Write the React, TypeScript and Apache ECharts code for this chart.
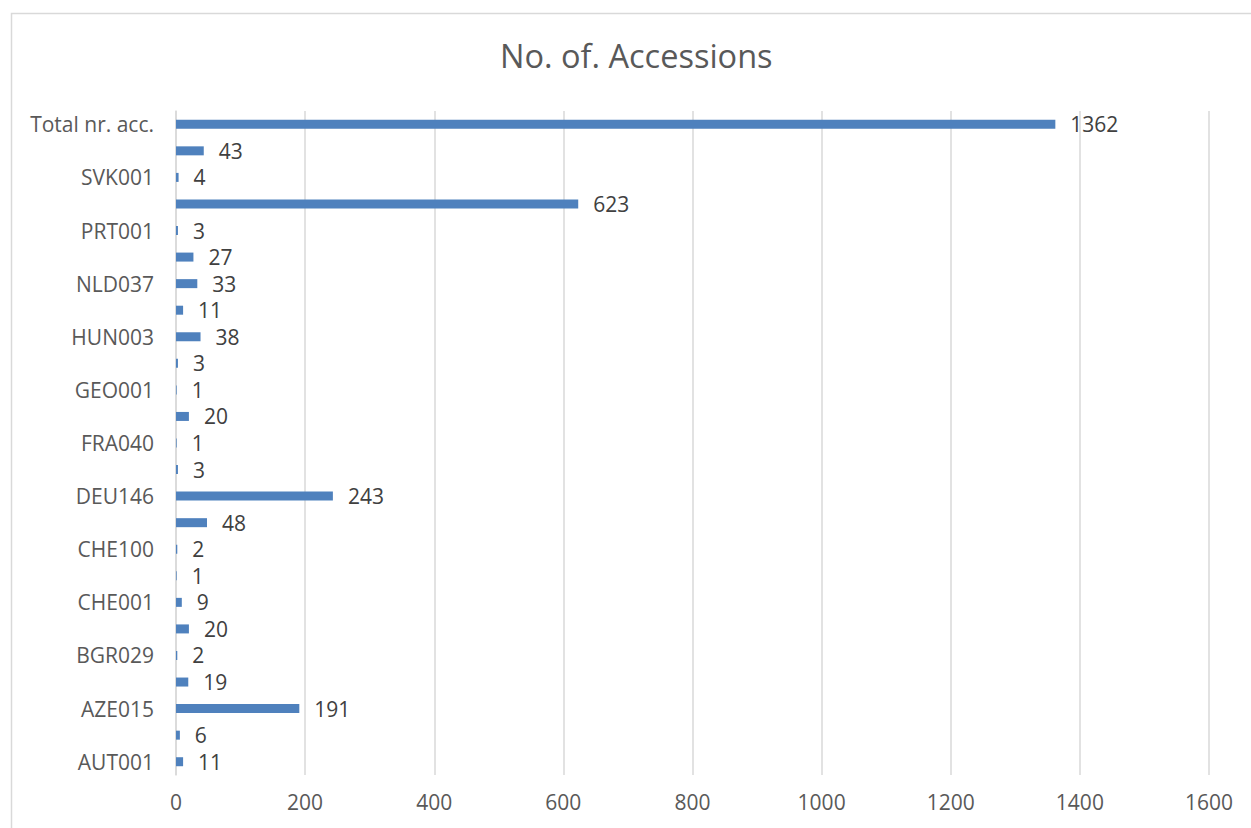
import React, { useEffect, useRef } from "react";
import * as echarts from "echarts";

// Categories from bottom to top; labels that are hidden in the reference are unknown (empty)
const categories: string[] = [
  "AUT001", "", "AZE015", "", "BGR029", "", "CHE001", "", "CHE100", "",
  "DEU146", "", "FRA040", "", "GEO001", "", "HUN003", "", "NLD037", "",
  "PRT001", "", "SVK001", "", "Total nr. acc.",
];
const values: number[] = [
  11, 6, 191, 19, 2, 20, 9, 1, 2, 48,
  243, 3, 1, 20, 1, 3, 38, 11, 33, 27,
  3, 623, 4, 43, 1362,
];
const title = "No. of. Accessions";
const xTicks = { min: 0, max: 1600, interval: 200 };

const FONT = "'Open Sans', 'Noto Sans', sans-serif";

export default function App() {
  const ref = useRef<HTMLDivElement>(null);
  useEffect(() => {
    document.body.style.margin = "0";
    const chart = echarts.init(ref.current!, null, { renderer: "svg" });
    chart.setOption({
      animation: false,
      backgroundColor: "#ffffff",
      title: {
        text: title,
        left: 495,
        top: 34,
        textStyle: { fontFamily: FONT, fontSize: 32.5, fontWeight: "normal", color: "#595959" },
      },
      graphic: [
        {
          type: "rect",
          shape: { x: 11.5, y: 13.5, width: 1260, height: 900 },
          style: { fill: "none", stroke: "#d9d9d9", lineWidth: 1.5 },
          silent: true,
        },
      ],
      grid: { left: 176, right: 42, top: 111, bottom: 53, containLabel: false },
      xAxis: {
        type: "value",
        min: xTicks.min,
        max: xTicks.max,
        interval: xTicks.interval,
        axisLine: { show: false },
        axisTick: { show: false },
        splitLine: { show: true, lineStyle: { color: "#d9d9d9", width: 1.5 } },
        axisLabel: {
          fontFamily: FONT,
          fontSize: 21,
          color: "#595959",
          margin: 16,
          formatter: (v: number) => String(v),
        },
      },
      yAxis: {
        type: "category",
        data: categories,
        axisLine: { show: true, lineStyle: { color: "#d9d9d9", width: 1.5 } },
        axisTick: { show: false },
        axisLabel: {
          interval: 0,
          fontFamily: FONT,
          fontSize: 21,
          color: "#595959",
          margin: 22,
        },
      },
      series: [
        {
          type: "bar",
          data: values,
          barWidth: 9,
          itemStyle: { color: "#4f81bd" },
          label: {
            show: true,
            position: "right",
            distance: 15,
            fontFamily: FONT,
            fontSize: 21,
            color: "#404040",
          },
        },
      ],
    });
    return () => chart.dispose();
  }, []);
  return <div ref={ref} style={{ width: 1251, height: 828 }} />;
}
